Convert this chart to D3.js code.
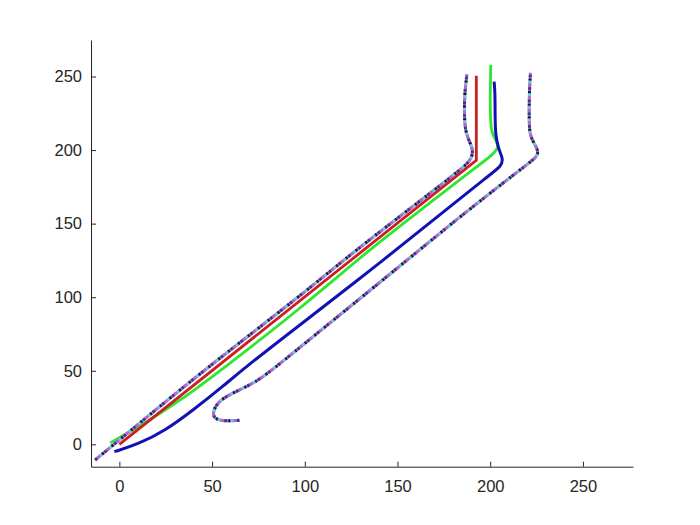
<!DOCTYPE html>
<html>
<head>
<meta charset="utf-8">
<script src="https://cdn.jsdelivr.net/npm/d3@7"></script>
<style>
  body { margin: 0; background: #fff; }
  svg text { font-family: "Liberation Sans", Arial, sans-serif; }
</style>
</head>
<body>
<script>
const width = 700;
const height = 525;

// ticks
const xTicks = [0, 50, 100, 150, 200, 250];
const yTicks = [0, 50, 100, 150, 200, 250];

// series
const redX = [0, 192.5, 192.5];
const redY = [0, 193, 250.5];

const greenX = [-5, 5, 15, 32, 55, 97.7, 133.5, 161.2, 191, 201, 204.5, 203.5, 200.5, 200, 200, 200.3];
const greenY = [1, 8, 15.5, 29, 50.5, 92.3, 131, 158, 187, 196.5, 201.5, 206, 211.5, 225, 242, 258];

const blueX = [-2.7, 10, 25, 40, 55, 70, 97.7, 141, 176.3, 199.5, 206, 207, 204.5, 202.8, 202.6, 202.6, 202.1];
const blueY = [-5, 0, 9.5, 23.5, 38.5, 54.5, 81.5, 123.7, 159.5, 183, 189, 194, 200.5, 210, 224.5, 239.5, 246.5];

const dot1X = [-13.1, 0, 20, 50.3, 97.7, 126, 161.2, 184.4, 189.5, 191, 188.5, 186.5, 186, 186.2, 186.9, 187.4];
const dot1Y = [-10.7, 3, 24, 55, 101, 130.5, 164.5, 187, 193, 199.5, 206.5, 213.5, 224.5, 237.5, 245.5, 251.5];

const dot2X = [64.8, 57, 51.5, 50.3, 52, 56, 63, 72.5, 82, 105.7, 141, 181.4, 216, 223.5, 226.5, 224, 221.5, 221, 221, 221.3, 221.7];
const dot2Y = [16.4, 15.6, 17.2, 21, 26.5, 31.5, 36, 41.5, 50, 74.5, 110.5, 152.5, 186.5, 193.5, 198, 204, 209.5, 218, 231.5, 244.5, 252.5];

const svg = d3.select('body').append('svg')
  .attr('width', width)
  .attr('height', height);

const x = d3.scaleLinear().domain([-15.3, 277]).range([91, 633]);
const y = d3.scaleLinear().domain([-15.2, 274.8]).range([466.7, 40]);

const zip = (xs, ys) => xs.map((v, i) => [v, ys[i]]);

const smooth = d3.line()
  .x((d) => x(d[0]))
  .y((d) => y(d[1]))
  .curve(d3.curveBasis);

const straight = d3.line()
  .x((d) => x(d[0]))
  .y((d) => y(d[1]));

// solid lines
svg.append('path')
  .attr('d', smooth(zip(greenX, greenY)))
  .attr('fill', 'none')
  .attr('stroke', '#2ee62e')
  .attr('stroke-width', 2.8);

svg.append('path')
  .attr('d', straight(zip(redX, redY)))
  .attr('fill', 'none')
  .attr('stroke', '#cc1f1f')
  .attr('stroke-width', 2.8);

svg.append('path')
  .attr('d', smooth(zip(blueX, blueY)))
  .attr('fill', 'none')
  .attr('stroke', '#1212b4')
  .attr('stroke-width', 3);

// dotted lines, several colours overlaid
const dotColours = ['#8f72bb', '#1a1028', '#5ccfe0', '#cc5ad0', '#3a3a96'];
[zip(dot1X, dot1Y), zip(dot2X, dot2Y)].forEach((pts) => {
  const d = smooth(pts);
  dotColours.forEach((c, i) => {
    svg.append('path')
      .attr('d', d)
      .attr('fill', 'none')
      .attr('stroke', c)
      .attr('stroke-width', 3)
      .attr('stroke-dasharray', i === 0 ? null : (i === 1 ? '1.8,10.7' : '2.5,10'))
      .attr('stroke-dashoffset', i * 3.1);
  });
});

// axes
const xAxis = svg.append('g')
  .attr('transform', `translate(0,${y.range()[0]})`)
  .call(d3.axisBottom(x).tickValues(xTicks).tickSizeInner(-5).tickSizeOuter(0).tickPadding(14));

const yAxis = svg.append('g')
  .attr('transform', `translate(${x.range()[0]},0)`)
  .call(d3.axisLeft(y).tickValues(yTicks).tickSizeInner(-5).tickSizeOuter(0).tickPadding(9));

[xAxis, yAxis].forEach((g) => {
  g.select('.domain').attr('stroke', '#262626').attr('stroke-width', 1);
  g.selectAll('.tick line').attr('stroke', '#262626');
  g.selectAll('.tick text')
    .attr('fill', '#262626')
    .style('font-size', '16.5px');
});
</script>
</body>
</html>
